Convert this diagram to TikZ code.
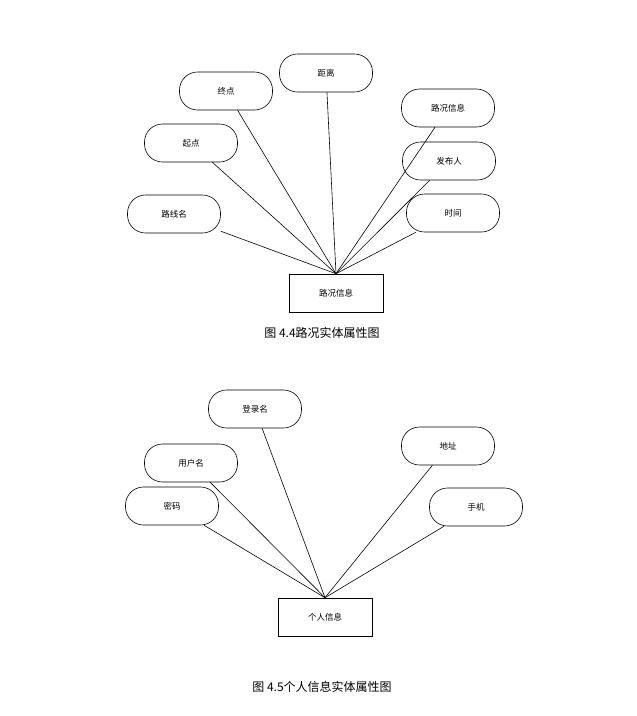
\documentclass[tikz,border=0pt]{standalone}
\usepackage{fontspec}
\setmainfont{Noto Sans CJK SC}
\begin{document}
\begin{tikzpicture}[x=1pt,y=-1pt,
  attr/.style={draw,rounded corners=18pt,minimum width=93pt,minimum height=38pt,font=\fontsize{8.5}{10}\selectfont,line width=0.6pt},
  ent/.style={draw,minimum width=94pt,minimum height=38pt,font=\fontsize{8.5}{10}\selectfont,line width=0.6pt},
  captxt/.style={font=\fontsize{12}{14}\selectfont},
  ln/.style={line width=0.6pt}]
\useasboundingbox (0,0) rectangle (637,716);
% top
\node[ent] (e1) at (336,293) {路况信息};
\node[attr] (a1) at (226,91) {终点};
\node[attr] (a2) at (326,73) {距离};
\node[attr] (a3) at (448,108) {路况信息};
\node[attr] (a4) at (191,143) {起点};
\node[attr] (a5) at (449,161) {发布人};
\node[attr] (a6) at (174,214) {路线名};
\node[attr] (a7) at (453,213) {时间};
\foreach \a in {a1,a2,a3,a4,a5,a6,a7} \draw[ln] (\a) -- (e1.north);
\node[captxt] (c1) at (322,333) {图 4.4路况实体属性图};
% bottom
\node[ent] (e2) at (325,617) {个人信息};
\node[attr] (b1) at (255,409) {登录名};
\node[attr] (b2) at (191,463) {用户名};
\node[attr] (b3) at (448,446) {地址};
\node[attr] (b4) at (172,506) {密码};
\node[attr] (b5) at (476,507) {手机};
\foreach \b in {b1,b2,b3,b4,b5} \draw[ln] (\b) -- (e2.north);
\node[captxt] (c2) at (322,687) {图 4.5个人信息实体属性图};
\end{tikzpicture}
\end{document}
